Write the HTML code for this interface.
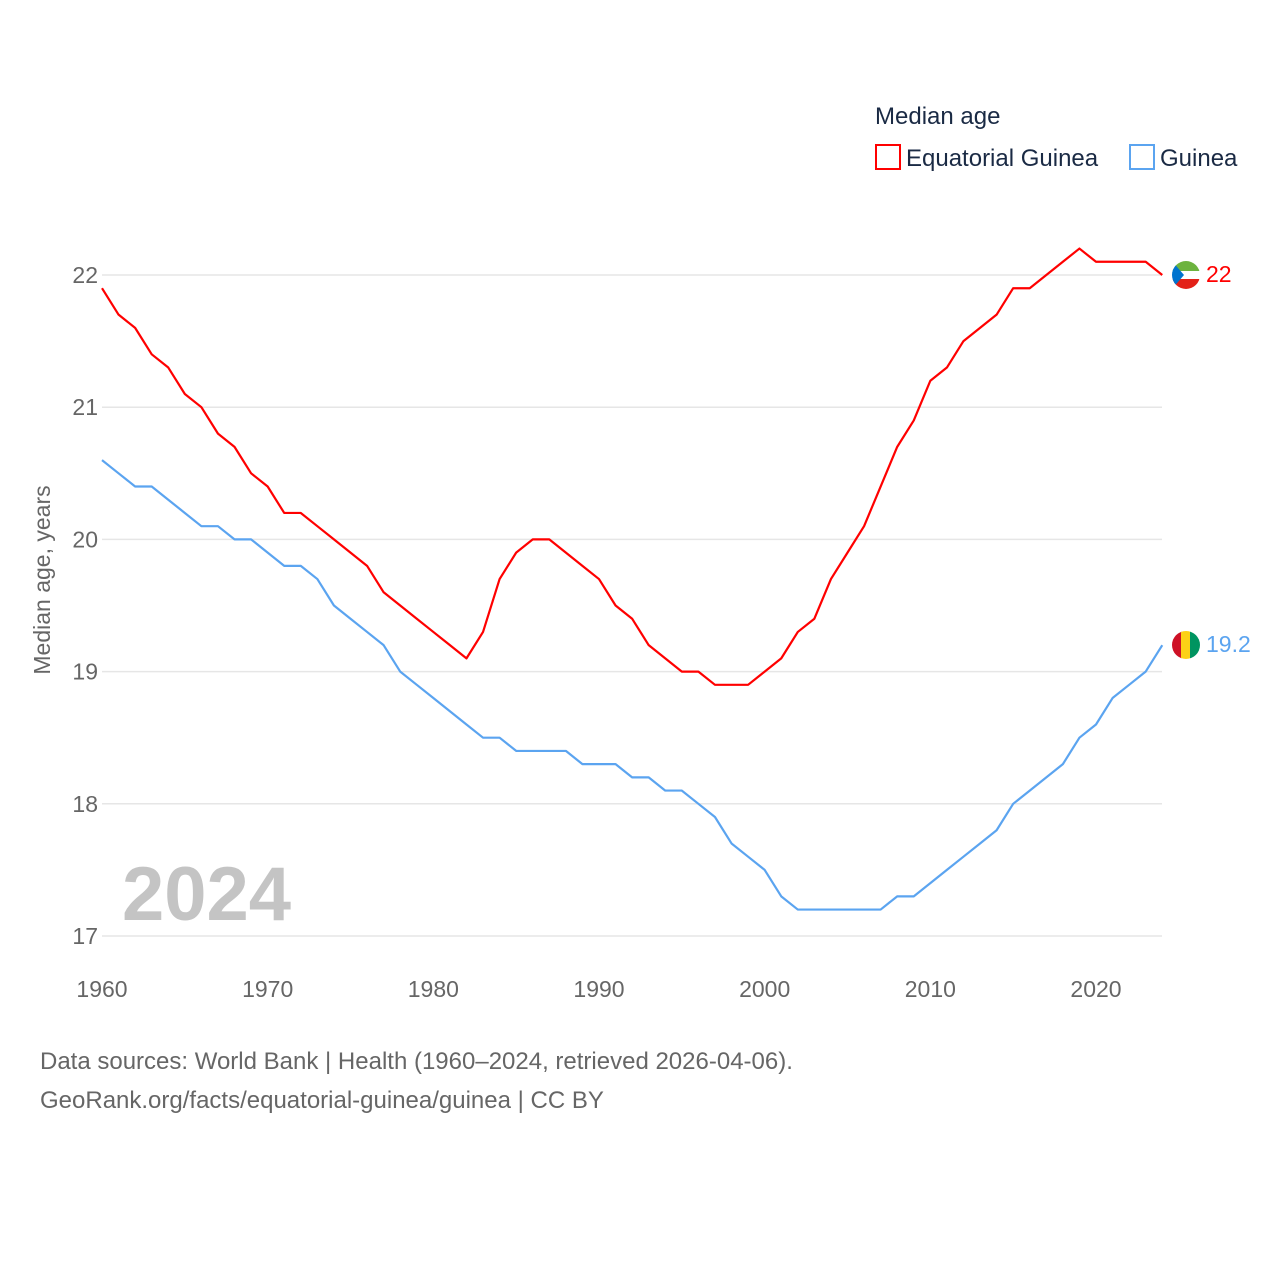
<!DOCTYPE html>
<html><head><meta charset="utf-8"><style>
body{margin:0;background:#fff;width:1280px;height:1280px;overflow:hidden;font-family:"Liberation Sans",sans-serif}
svg text{font-family:"Liberation Sans",sans-serif}
</style></head><body>
<svg id="chart" width="1280" height="1280" xmlns="http://www.w3.org/2000/svg">
<g id="grid"></g>
<g id="xt"></g>
<g id="yt"></g>
<text transform="translate(50,580) rotate(-90)" text-anchor="middle" font-size="23" fill="#666">Median age, years</text>
<text x="122" y="920" font-size="76" font-weight="bold" fill="#c4c4c4">2024</text>
<g id="lines"></g>
<text x="875" y="124" font-size="24" fill="#1a2a44">Median age</text>
<g><rect x="876" y="145" width="24" height="24" fill="none" stroke="#f00" stroke-width="2"/><text x="906" y="166" font-size="24" fill="#1a2a44">Equatorial Guinea</text></g>
<g><rect x="1130" y="145" width="24" height="24" fill="none" stroke="#5ba4f0" stroke-width="2"/><text x="1160" y="166" font-size="24" fill="#1a2a44">Guinea</text></g>
<g>
<clipPath id="c1"><circle cx="1186" cy="275" r="14"/></clipPath>
<g clip-path="url(#c1)"><rect x="1172" y="261" width="28" height="10" fill="#6db33f"/><rect x="1172" y="271" width="28" height="8" fill="#fff"/><rect x="1172" y="279" width="28" height="10" fill="#e32118"/><polygon points="1172,261 1184,275 1172,289" fill="#0073ce"/></g></g>
<g>
<clipPath id="c2"><circle cx="1186" cy="645" r="14"/></clipPath>
<g clip-path="url(#c2)"><rect x="1172" y="631" width="10" height="28" fill="#ce1126"/><rect x="1181" y="631" width="10" height="28" fill="#fcd116"/><rect x="1190" y="631" width="10" height="28" fill="#009460"/></g></g>
<text x="1206" y="282" font-size="23" fill="#f00">22</text>
<text x="1206" y="652" font-size="23" fill="#5ba4f0">19.2</text>
<text x="40" y="1069" font-size="24" fill="#666">Data sources: World Bank | Health (1960–2024, retrieved 2026-04-06).</text>
<text x="40" y="1108" font-size="24" fill="#666">GeoRank.org/facts/equatorial-guinea/guinea | CC BY</text>
</svg>
<script>
const years=[];for(let y=1960;y<=2024;y++)years.push(y);
const eqGuinea=[21.9,21.7,21.6,21.4,21.3,21.1,21.0,20.8,20.7,20.5,20.4,20.2,20.2,20.1,20.0,19.9,19.8,19.6,19.5,19.4,19.3,19.2,19.1,19.3,19.7,19.9,20.0,20.0,19.9,19.8,19.7,19.5,19.4,19.2,19.1,19.0,19.0,18.9,18.9,18.9,19.0,19.1,19.3,19.4,19.7,19.9,20.1,20.4,20.7,20.9,21.2,21.3,21.5,21.6,21.7,21.9,21.9,22.0,22.1,22.2,22.1,22.1,22.1,22.1,22.0];
const guinea=[20.6,20.5,20.4,20.4,20.3,20.2,20.1,20.1,20.0,20.0,19.9,19.8,19.8,19.7,19.5,19.4,19.3,19.2,19.0,18.9,18.8,18.7,18.6,18.5,18.5,18.4,18.4,18.4,18.4,18.3,18.3,18.3,18.2,18.2,18.1,18.1,18.0,17.9,17.7,17.6,17.5,17.3,17.2,17.2,17.2,17.2,17.2,17.2,17.3,17.3,17.4,17.5,17.6,17.7,17.8,18.0,18.1,18.2,18.3,18.5,18.6,18.8,18.9,19.0,19.2];
const yTicks=[17,18,19,20,21,22];
const xTicks=[1960,1970,1980,1990,2000,2010,2020];
const X=y=>102+(y-1960)*(994/60);
const Y=v=>936-(v-17)*(661/5);
const NS="http://www.w3.org/2000/svg";
function mk(tag,attrs,parent){const e=document.createElementNS(NS,tag);for(const k in attrs)e.setAttribute(k,attrs[k]);parent.appendChild(e);return e;}
const grid=document.getElementById('grid'),yt=document.getElementById('yt'),xt=document.getElementById('xt'),lines=document.getElementById('lines');
yTicks.forEach(v=>{
 const l=mk('line',{x1:102,x2:1162,y1:Y(v),y2:Y(v),stroke:'#e6e6e6','stroke-width':1.5},grid);
 
 
 const t=mk('text',{x:98,y:Y(v)+8,'text-anchor':'end','font-size':23,fill:'#666'},yt);t.textContent=v;
 
 
});
xTicks.forEach(v=>{
 const t=mk('text',{x:X(v),y:997,'text-anchor':'middle','font-size':23,fill:'#666'},xt);t.textContent=v;
 
 
});
function line(data,color,name){
 const p=mk('polyline',{points:data.map((v,i)=>X(years[i])+','+Y(v)).join(' '),fill:'none',stroke:color,'stroke-width':2.2,'stroke-linejoin':'round'},lines);
 
 
}
line(guinea,'#5ba4f0','line-guinea');
line(eqGuinea,'#f00','line-equatorial-guinea');
</script>
</body></html>
